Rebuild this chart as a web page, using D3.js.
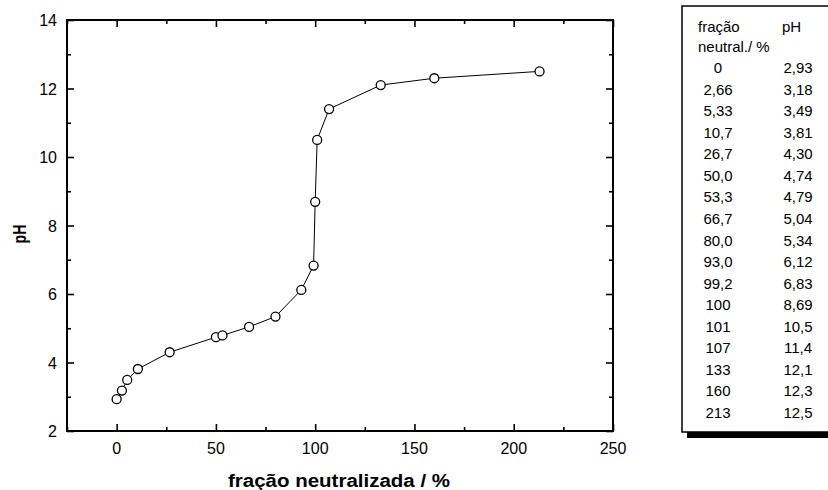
<!DOCTYPE html>
<html>
<head>
<meta charset="utf-8">
<script src="https://cdn.jsdelivr.net/npm/d3@7"></script>
<style>
  body { margin: 0; background: #fff; }
  text { font-family: "Liberation Sans", Arial, sans-serif; fill: #000; }
</style>
</head>
<body>
<script>
// valores da titulação (fração neutralizada em %, pH)
const fracao = [0, 2.66, 5.33, 10.7, 26.7, 50.0, 53.3, 66.7, 80.0, 93.0, 99.2, 100, 101, 107, 133, 160, 213];
const pH = [2.93, 3.18, 3.49, 3.81, 4.30, 4.74, 4.79, 5.04, 5.34, 6.12, 6.83, 8.69, 10.5, 11.4, 12.1, 12.3, 12.5];
// textos da tabela, como aparecem
const fracaoTxt = ["0", "2,66", "5,33", "10,7", "26,7", "50,0", "53,3", "66,7", "80,0", "93,0", "99,2", "100", "101", "107", "133", "160", "213"];
const pHTxt = ["2,93", "3,18", "3,49", "3,81", "4,30", "4,74", "4,79", "5,04", "5,34", "6,12", "6,83", "8,69", "10,5", "11,4", "12,1", "12,3", "12,5"];
const xTicks = [0, 50, 100, 150, 200, 250];
const yTicks = [2, 4, 6, 8, 10, 12, 14];

const W = 828, H = 490;
const svg = d3.select("body").append("svg").attr("width", W).attr("height", H);

const gEsq = 67, gDir = 613, gTopo = 20, gBase = 431;
const x = d3.scaleLinear().domain([-25, 250]).range([gEsq, gDir]);
const y = d3.scaleLinear().domain([2, 14]).range([gBase, gTopo]);

const minorX = d3.range(-25, 251, 25).filter(v => !xTicks.includes(v));
const minorY = d3.range(3, 14, 2);

// eixos com ticks para dentro, nos 4 lados
function axe(gen, ticks, len, translate) {
  const g = svg.append("g").attr("transform", translate)
    .call(gen.tickValues(ticks).tickSize(len).tickFormat(""));
  g.select(".domain").remove();
  g.selectAll("line").attr("stroke", "#000").attr("stroke-width", 1.6);
  return g;
}
axe(d3.axisBottom(x), xTicks, -7, `translate(0,${gBase})`);
axe(d3.axisBottom(x), minorX, -4, `translate(0,${gBase})`);
axe(d3.axisTop(x), xTicks, -7, `translate(0,${gTopo})`);
axe(d3.axisTop(x), minorX, -4, `translate(0,${gTopo})`);
axe(d3.axisLeft(y), yTicks, -7, `translate(${gEsq},0)`);
axe(d3.axisLeft(y), minorY, -4, `translate(${gEsq},0)`);
axe(d3.axisRight(y), yTicks, -7, `translate(${gDir},0)`);
axe(d3.axisRight(y), minorY, -4, `translate(${gDir},0)`);

svg.append("rect")
  .attr("x", gEsq).attr("y", gTopo)
  .attr("width", gDir - gEsq).attr("height", gBase - gTopo)
  .attr("fill", "none").attr("stroke", "#000").attr("stroke-width", 2);

// rótulos dos ticks
svg.append("g").selectAll("text").data(xTicks).join("text")
  .attr("x", d => x(d)).attr("y", gBase + 23)
  .attr("text-anchor", "middle").attr("font-size", 16)
  .text(d => d);
svg.append("g").selectAll("text").data(yTicks).join("text")
  .attr("x", gEsq - 10).attr("y", d => y(d) + 6)
  .attr("text-anchor", "end").attr("font-size", 16)
  .text(d => d);

// títulos
svg.append("text")
  .attr("x", 339).attr("y", 487)
  .attr("text-anchor", "middle").attr("font-size", 18).attr("font-weight", "bold")
  .attr("textLength", 222).attr("lengthAdjust", "spacingAndGlyphs")
  .text("fração neutralizada / %");
svg.append("text")
  .attr("transform", `translate(26,234) rotate(-90)`)
  .attr("text-anchor", "middle").attr("font-size", 18).attr("font-weight", "bold")
  .attr("textLength", 19).attr("lengthAdjust", "spacingAndGlyphs")
  .text("pH");

// curva + pontos
const pts = fracao.map((f, i) => [f, pH[i]]);
svg.append("path")
  .datum(pts)
  .attr("d", d3.line().x(d => x(d[0])).y(d => y(d[1])))
  .attr("fill", "none").attr("stroke", "#000").attr("stroke-width", 1);
svg.append("g").selectAll("circle").data(pts).join("circle")
  .attr("cx", d => x(d[0])).attr("cy", d => y(d[1]))
  .attr("r", 4.5).attr("fill", "#fff").attr("stroke", "#000").attr("stroke-width", 1.3);

// tabela à direita
const tx = 682, ty = 6, tb = 432;
svg.append("rect").attr("x", 687).attr("y", tb).attr("width", W - 687).attr("height", 6).attr("fill", "#000");
svg.append("rect").attr("x", tx).attr("y", ty).attr("width", W - tx + 5).attr("height", tb - ty)
  .attr("fill", "#fff").attr("stroke", "#000").attr("stroke-width", 1.5);

const tab = svg.append("g").style("font-size", "15px");
tab.append("text").attr("x", 698).attr("y", 32).text("fração");
tab.append("text").attr("x", 782).attr("y", 32).text("pH");
tab.append("text").attr("x", 698).attr("y", 52).text("neutral./ %");

const row = d3.scaleLinear().domain([0, 16]).range([73, 418]);
tab.selectAll(".c1").data(fracaoTxt).join("text")
  .attr("x", 718).attr("y", (d, i) => row(i))
  .attr("text-anchor", "middle").text(d => d);
tab.selectAll(".c2").data(pHTxt).join("text")
  .attr("x", 798).attr("y", (d, i) => row(i))
  .attr("text-anchor", "middle").text(d => d);
</script>
</body>
</html>
